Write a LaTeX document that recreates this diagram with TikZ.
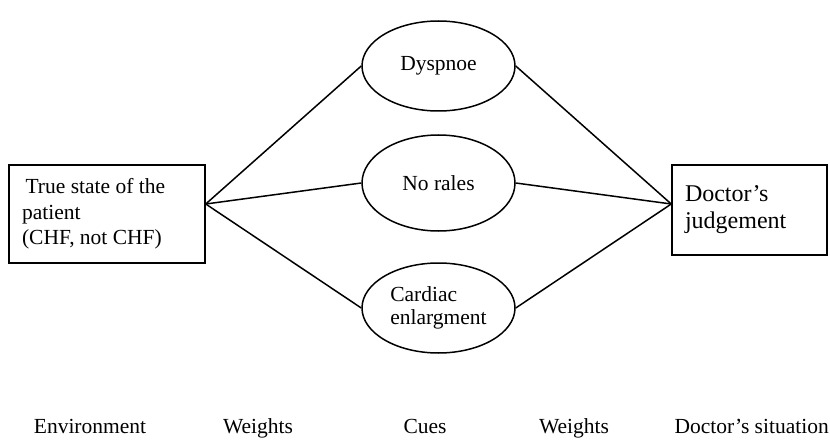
\documentclass[tikz,border=0pt]{standalone}
\usepackage{fontspec}
\setmainfont{Liberation Serif}
\usetikzlibrary{shapes.geometric}
\tikzstyle{truth} = [rectangle, draw=black, line width=1.5pt, minimum width=196pt, minimum height=98pt, text width=170pt, align=flush left, font=\fontsize{21.5}{25.5}\selectfont]
\tikzstyle{judge} = [rectangle, draw=black, line width=1.5pt, minimum width=155pt, minimum height=90pt, text width=129pt, align=flush left, font=\fontsize{24}{27}\selectfont]
\tikzstyle{cue} = [ellipse, draw=black, line width=1.5pt, minimum width=153pt, minimum height=90pt, inner sep=0pt, align=flush left, font=\fontsize{21.5}{23}\selectfont]
\tikzstyle{column} = [inner sep=0pt, anchor=base, font=\fontsize{21.5}{25}\selectfont]
\tikzstyle{line} = [line width=1.5pt]

\begin{document}
\begin{tikzpicture}[x=1pt, y=-1pt, node distance=114pt]
\useasboundingbox (0,0) rectangle (830,441);

\node (true state) [truth] at (107,214) {\,True state of the\\patient\\(CHF, not CHF)};
\node (doctor judgement) [judge] at (749.5,210) {Doctor’s\\judgement};

\node (dyspnoe) [cue] at (438.5,66) {Dyspnoe};
\node (no rales) [cue, below of=dyspnoe, yshift=-3pt, minimum height=96pt] {No rales};
\node (cardiac enlargment) [cue, below of=no rales, yshift=-11pt] {Cardiac\\enlargment};

\coordinate (left hub) at ([yshift=10pt]true state.east);
\coordinate (right hub) at ([yshift=6pt]doctor judgement.west);

\draw [line] (left hub) -- (dyspnoe.west);
\draw [line] (left hub) -- (no rales.west);
\draw [line] (left hub) -- (cardiac enlargment.west);
\draw [line] (dyspnoe.east) -- (right hub);
\draw [line] (no rales.east) -- (right hub);
\draw [line] (cardiac enlargment.east) -- (right hub);

\node (environment) [column] at (90,433) {Environment};
\node (weights left) [column] at (258,433) {Weights};
\node (cues) [column] at (425,433) {Cues};
\node (weights right) [column] at (574,433) {Weights};
\node (doctor situation) [column, anchor=base east] at (829,433) {Doctor’s situation};

\end{tikzpicture}
\end{document}
